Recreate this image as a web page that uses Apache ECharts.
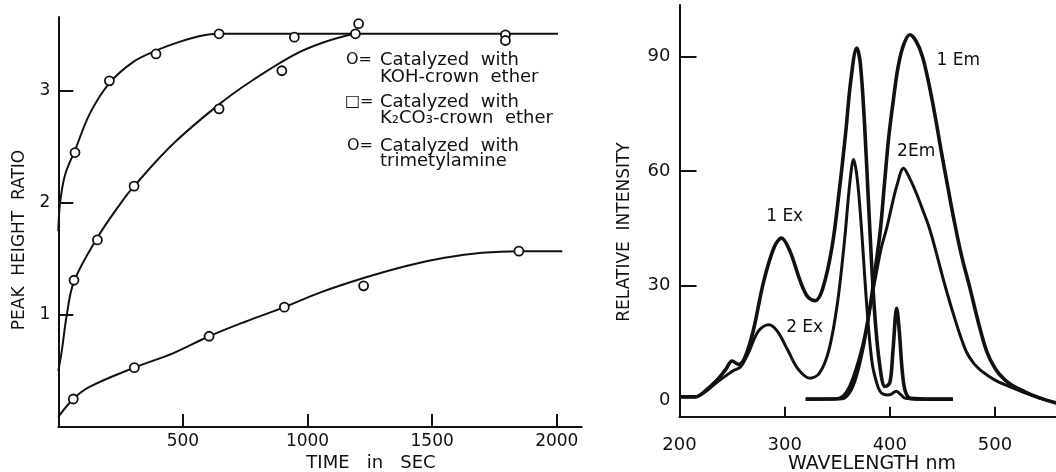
<!DOCTYPE html>
<html>
<head>
<meta charset="utf-8">
<script src="https://cdn.jsdelivr.net/npm/echarts@6/dist/echarts.min.js"></script>
<style>
  html, body { margin: 0; padding: 0; background: #fff; }
  #chart { width: 1056px; height: 472px; }
</style>
</head>
<body>
<div id="chart"></div>
<script>
// ---- left panel: peak height ratio vs time ----
// fitted curves
const kohCurve = [[0,1.75],[7,2.0],[27,2.25],[67,2.47],[127,2.8],[205,3.07],[301,3.26],[392,3.36],[489,3.44],[569,3.49],[645,3.51],[800,3.51],[1200,3.51],[2005,3.51]]
const k2co3Curve = [[0,0.5],[14,0.68],[34,1.0],[63,1.3],[154,1.68],[248,1.99],[304,2.15],[462,2.53],[645,2.88],[769,3.08],[944,3.32],[1060,3.43],[1185,3.51]]
const tmaCurve = [[0,0.09],[60,0.25],[127,0.36],[305,0.53],[462,0.66],[605,0.81],[750,0.94],[907,1.07],[1050,1.2],[1225,1.33],[1400,1.44],[1550,1.51],[1700,1.555],[1848,1.57],[2022,1.57]]
// measured points
const kohPoints = [[67,2.45],[205,3.09],[392,3.33],[645,3.51],[947,3.48],[1205,3.60],[1794,3.50]]
const k2co3Points = [[63,1.31],[157,1.67],[304,2.15],[645,2.84],[897,3.18],[1192,3.51],[1794,3.45]]
const tmaPoints = [[60,0.25],[305,0.53],[605,0.81],[907,1.07],[1225,1.26],[1848,1.57]]
const timeTicks = [500, 1000, 1500, 2000]
const ratioTicks = [1, 2, 3]

// ---- right panel: excitation / emission spectra ----
const ex1 = [[200,0.8],[215,0.8],[225,2.5],[235,5],[244,8],[250,10.2],[256,9.3],[262,11],[270,18],[280,31],[290,40],[297,42.4],[305,39],[315,31],[322,27],[329,26],[336,29],[345,40],[352,55],[358,70],[363,84],[368.5,92.2],[372,88],[376,72],[380,50],[385,25],[390,10],[395.5,3.5],[400,4.5],[403,13],[406.5,24],[409,18],[412,7],[415,2],[420,0.4],[440,0.2],[460,0.2]]
const ex2 = [[200,0.8],[215,0.8],[225,2.2],[235,4.5],[245,6.5],[252,7.8],[258,8.6],[265,12],[275,18],[285,19.7],[293,18],[303,13],[313,8],[324,5.7],[333,7],[342,13],[350,25],[357,42],[362,57],[365.5,63],[369,58],[373,45],[378,25],[383,10],[388,4],[392,1.8],[398,1.3],[402,1.6],[406,2.3],[410,1.5],[415,0.4],[425,0.2],[460,0.2]]
const em1 = [[320,0.2],[350,0.3],[356,1],[362,3.5],[368,8],[375,15],[381,24],[386,34],[391,44.6],[395,57],[399,69],[404,80],[408,87.5],[413,93],[419,95.7],[425,94],[431,90],[437,83],[443,74.5],[449,65],[455,56],[461,47.2],[468,38],[476,29.5],[484,20.5],[492,12.8],[500,8.3],[508,5.6],[517,3.7],[528,2.2],[540,0.8],[558,-0.8]]
const em2 = [[320,0.2],[355,0.3],[362,2],[368,6],[375,14],[381,24],[387,33],[392,40],[397,45],[402,51],[407,56.5],[413,60.7],[419,58],[425,54.3],[431,50],[437,45.5],[443,39.8],[449,33.5],[455,27.5],[461,22],[467,16.8],[473,12.5],[480,9.5],[487,7.6],[500,5.2],[514,3.5],[530,1.7],[545,0.2],[558,-0.8]]
const wlTicks = [300, 400, 500]
const wlLabels = [200, 300, 400, 500]
const intTicks = [30, 60, 90]
const intLabels = [0, 30, 60, 90]
const specLabels = ['1 Em', '2Em', '1 Ex', '2 Ex']
const specLabelX = [465, 425, 300, 319]
const specLabelY = [89, 65, 48, 19]

const font = 'DejaVu Sans'
const ink = '#111'

const chart = echarts.init(document.getElementById('chart'))

const axisBase = (idx, min, max, ticks, labels, tickLen, margin, size) => ({
  type: 'value',
  gridIndex: idx,
  min: min,
  max: max,
  axisLine: { show: true, onZero: false, lineStyle: { color: ink, width: 2 } },
  axisTick: { show: true, inside: true, length: tickLen, customValues: ticks, lineStyle: { color: ink, width: 2 } },
  axisLabel: { show: true, customValues: labels, margin: margin, color: ink, fontFamily: font, fontSize: size, formatter: v => String(v) },
  splitLine: { show: false }
})

const curve = (data, xi, width) => ({
  type: 'line',
  xAxisIndex: xi,
  yAxisIndex: xi,
  data: data,
  smooth: 0.35,
  symbol: 'none',
  silent: true,
  lineStyle: { color: ink, width: width }
})

const dots = (data) => ({
  type: 'scatter',
  xAxisIndex: 0,
  yAxisIndex: 0,
  data: data,
  symbol: 'circle',
  symbolSize: 9,
  z: 5,
  itemStyle: { color: '#fff', borderColor: ink, borderWidth: 1.8, opacity: 1 }
})

const legendLines = [
  { t: 'O=', x: 346, y: 60, s: 16 },
  { t: 'Catalyzed  with', x: 380, y: 60, s: 18 },
  { t: 'KOH-crown  ether', x: 380, y: 77, s: 18 },
  { t: '□=', x: 345, y: 102, s: 16 },
  { t: 'Catalyzed  with', x: 380, y: 102, s: 18 },
  { t: 'K₂CO₃-crown  ether', x: 380, y: 118, s: 18 },
  { t: 'O=', x: 347, y: 146, s: 16 },
  { t: 'Catalyzed  with', x: 380, y: 146, s: 18 },
  { t: 'trimetylamine', x: 380, y: 161, s: 18 }
]

const titles = [
  { t: 'PEAK  HEIGHT  RATIO', x: 20, y: 240, rot: Math.PI / 2, s: 17 },
  { t: 'TIME   in   SEC', x: 371, y: 463, rot: 0, s: 18 },
  { t: 'RELATIVE  INTENSITY', x: 625, y: 232, rot: Math.PI / 2, s: 17 },
  { t: 'WAVELENGTH nm', x: 872, y: 464, rot: 0, s: 19 }
]

const graphics = legendLines.map(l => ({
  type: 'text',
  style: { text: l.t, x: l.x, y: l.y, fill: ink, font: l.s + 'px "' + font + '"', verticalAlign: 'middle', align: 'left' }
})).concat(titles.map(t => ({
  type: 'text',
  x: t.x,
  y: t.y,
  rotation: t.rot,
  style: { text: t.t, x: 0, y: 0, fill: ink, font: t.s + 'px "' + font + '"', verticalAlign: 'middle', align: 'center' }
})))

chart.setOption({
  backgroundColor: '#fff',
  animation: false,
  grid: [
    { left: 58.3, right: 474.3, top: 17, bottom: 45 },
    { left: 679.5, right: 0, top: 5, bottom: 55.3 }
  ],
  xAxis: [
    axisBase(0, 0, 2100, timeTicks, timeTicks, 13, 6, 17),
    axisBase(1, 200, 558, wlTicks, wlLabels, 10, 20, 18)
  ],
  yAxis: [
    axisBase(0, 0, 3.66, ratioTicks, ratioTicks, 15, 8, 17),
    axisBase(1, -4.4, 103.5, intTicks, intLabels, 17, 9, 18)
  ],
  graphic: graphics,
  series: [
    curve(kohCurve, 0, 2),
    curve(k2co3Curve, 0, 2),
    curve(tmaCurve, 0, 2),
    dots(kohPoints),
    dots(k2co3Points),
    dots(tmaPoints),
    curve(ex1, 1, 3.6),
    curve(ex2, 1, 3),
    curve(em1, 1, 3.6),
    curve(em2, 1, 3),
    {
      type: 'scatter',
      xAxisIndex: 1,
      yAxisIndex: 1,
      symbolSize: 0,
      itemStyle: { opacity: 1 },
      data: specLabels.map((n, i) => [specLabelX[i], specLabelY[i], n]),
      label: {
        show: true,
        position: 'inside',
        formatter: p => p.data[2],
        color: ink,
        fontFamily: font,
        fontSize: 17
      }
    }
  ]
})
</script>
</body>
</html>
